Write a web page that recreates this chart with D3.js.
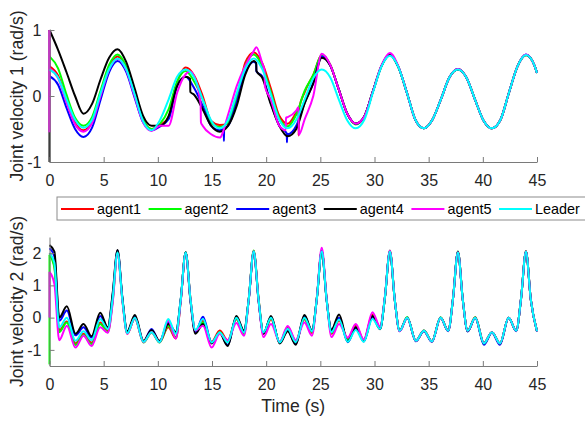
<!DOCTYPE html>
<html>
<head>
<meta charset="utf-8">
<script src="https://cdnjs.cloudflare.com/ajax/libs/d3/7.8.5/d3.min.js"></script>
<style>
    body { margin: 0; background: #ffffff; }
    svg { font-family: "Liberation Sans", Arial, Helvetica, sans-serif; }
    .axis text { fill: #262626; font-size: 16px; }
    .axis path, .axis line { stroke: #7a7a7a; stroke-width: 1; }
    .label { fill: #262626; font-size: 17.6px; }
    .legend text { fill: #000000; font-size: 14.4px; }
</style>
</head>
<body>
<div id="chart"></div>
<script>
// time samples (s) at quarter/eighth period points
const timeTop = [0, 0.79, 1.57, 2.36, 3.14, 3.93, 4.71, 5.50, 6.28,
    7.07, 7.85, 8.64, 9.42, 10.21, 11.00, 11.78, 12.57,
    13.35, 14.14, 14.92, 15.71, 16.49, 17.28, 18.06, 18.85,
    19.63, 20.42, 21.21, 21.99, 22.78, 23.56, 24.35, 25.13,
    25.92, 26.70, 27.49, 28.27, 29.06, 29.85, 30.63, 31.42,
    32.20, 32.99, 33.77, 34.56, 35.34, 36.13, 36.91, 37.70,
    38.48, 39.27, 40.06, 40.84, 41.63, 42.41, 43.20, 43.98,
    44.77, 45.00];

const timeBottom = [0, 0.45, 0.9, 1.6, 2.4, 3.14, 3.88, 4.68, 5.38, 5.83,
    6.28, 6.73, 7.18, 7.88, 8.68, 9.42, 10.16, 10.96, 11.66, 12.11,
    12.57, 13.02, 13.47, 14.17, 14.97, 15.71, 16.45, 17.25, 17.95, 18.40,
    18.85, 19.30, 19.75, 20.45, 21.25, 21.99, 22.73, 23.53, 24.23, 24.68,
    25.13, 25.58, 26.03, 26.73, 27.53, 28.27, 29.01, 29.81, 30.51, 30.96,
    31.42, 31.87, 32.32, 33.02, 33.82, 34.56, 35.30, 36.10, 36.80, 37.25,
    37.70, 38.15, 38.60, 39.30, 40.10, 40.84, 41.58, 42.38, 43.08, 43.53,
    43.98, 44.43, 45.00];

// joint velocity 1 (rad/s)
const agent1Top = [0.45, 0.31, -0.06, -0.40, -0.52, -0.39, 0.03, 0.43, 0.60,
    0.43, 0.03, -0.37, -0.50, -0.44, -0.32, 0.20, 0.43,
    0.31, 0.00, -0.38, -0.44, -0.42, -0.10, 0.50, 0.66,
    0.50, 0.12, -0.30, -0.42, -0.25, 0.06, 0.32, 0.62,
    0.47, 0.10, -0.27, -0.42, -0.31, 0.07, 0.45, 0.63,
    0.44, 0.05, -0.36, -0.49, -0.36, -0.05, 0.28, 0.41,
    0.28, -0.05, -0.37, -0.49, -0.36, 0.05, 0.45, 0.62,
    0.46, 0.35];
const agent2Top = [0.60, 0.42, 0.02, -0.33, -0.45, -0.32, 0.08, 0.47, 0.63,
    0.45, 0.05, -0.36, -0.50, -0.42, -0.20, 0.22, 0.38,
    0.22, -0.05, -0.40, -0.47, -0.40, 0.00, 0.45, 0.63,
    0.45, 0.06, -0.34, -0.46, -0.28, 0.08, 0.32, 0.62,
    0.47, 0.10, -0.27, -0.43, -0.31, 0.07, 0.45, 0.63,
    0.44, 0.05, -0.36, -0.49, -0.36, -0.05, 0.28, 0.40,
    0.28, -0.05, -0.37, -0.49, -0.36, 0.05, 0.45, 0.62,
    0.46, 0.35];
const agent3Top = [0.30, 0.17, -0.18, -0.50, -0.62, -0.48, -0.06, 0.36, 0.53,
    0.37, -0.02, -0.40, -0.52, -0.46, -0.35, 0.15, 0.29,
    0.12, -0.15, -0.45, -0.52, -0.45, -0.10, 0.35, 0.52,
    0.30, -0.10, -0.45, -0.58, -0.45, -0.10, 0.20, 0.60,
    0.46, 0.10, -0.27, -0.42, -0.31, 0.07, 0.45, 0.63,
    0.44, 0.05, -0.36, -0.49, -0.36, -0.05, 0.28, 0.41,
    0.28, -0.05, -0.37, -0.49, -0.36, 0.05, 0.45, 0.63,
    0.46, 0.35];
const agent4Top = [1.00, 0.70, 0.36, 0.00, -0.27, -0.12, 0.25, 0.58, 0.71,
    0.52, 0.12, -0.30, -0.45, -0.45, -0.30, 0.15, 0.29,
    0.02, -0.20, -0.45, -0.54, -0.45, -0.15, 0.32, 0.53,
    0.28, -0.12, -0.45, -0.61, -0.50, -0.11, 0.19, 0.58,
    0.46, 0.10, -0.27, -0.42, -0.31, 0.07, 0.45, 0.63,
    0.44, 0.05, -0.36, -0.49, -0.36, -0.05, 0.28, 0.40,
    0.28, -0.05, -0.37, -0.49, -0.36, 0.05, 0.45, 0.62,
    0.46, 0.35];
const agent5Top = [0.42, 0.27, -0.10, -0.43, -0.54, -0.41, 0.00, 0.40, 0.56,
    0.40, 0.00, -0.40, -0.53, -0.45, -0.45, 0.05, 0.33,
    0.30, -0.45, -0.58, -0.63, -0.28, 0.15, 0.45, 0.68,
    0.50, -0.05, -0.45, -0.32, -0.22, -0.35, 0.00, 0.64,
    0.47, 0.10, -0.27, -0.42, -0.31, 0.07, 0.46, 0.65,
    0.45, 0.05, -0.36, -0.49, -0.36, -0.05, 0.28, 0.41,
    0.28, -0.05, -0.37, -0.49, -0.36, 0.05, 0.45, 0.63,
    0.46, 0.35];
const leaderTop = [0.40, 0.28, -0.05, -0.36, -0.48, -0.36, 0.04, 0.41, 0.57,
    0.41, 0.03, -0.38, -0.52, -0.36, -0.05, 0.29, 0.40,
    0.28, -0.05, -0.37, -0.49, -0.36, 0.04, 0.41, 0.57,
    0.41, 0.03, -0.36, -0.49, -0.36, -0.05, 0.27, 0.40,
    0.28, -0.05, -0.37, -0.49, -0.36, 0.05, 0.44, 0.61,
    0.44, 0.05, -0.36, -0.49, -0.36, -0.05, 0.28, 0.40,
    0.28, -0.05, -0.37, -0.49, -0.36, 0.05, 0.45, 0.62,
    0.46, 0.35];

// switching jumps seen in velocity 1, [time, value]
const agent1TopJumps = [[22.97, -0.20], [23.00, -0.60], [23.03, -0.20]];
const agent2TopJumps = [];
const agent3TopJumps = [[16.08, -0.50], [16.10, -0.68], [16.12, -0.50],
    [19.08, 0.49], [19.10, 0.37], [21.90, -0.57], [21.92, -0.70], [21.94, -0.57]];
const agent4TopJumps = [[12.98, 0.26], [13.00, 0.06], [19.08, 0.50], [19.10, 0.38]];
const agent5TopJumps = [[12.95, 0.37], [13.95, -0.12], [13.98, -0.40], [19.10, 0.74],
    [19.85, 0.38], [19.88, 0.15], [21.80, -0.52], [21.83, -0.33], [22.98, -0.17], [23.01, -0.59]];
const leaderTopJumps = [];

// joint velocity 2 (rad/s)
const agent1Bottom = [2.00, 1.60, -0.40, -0.12, -0.80, -0.50, -0.78, -0.15, -0.42, 0.55,
    2.02, 0.55, -0.50, -0.02, -0.76, -0.45, -0.76, -0.30, -0.65, 0.50,
    2.03, 0.55, -0.40, -0.10, -0.75, -0.40, -0.70, -0.05, -0.50, 0.60,
    2.07, 0.58, -0.50, -0.05, -0.77, -0.30, -0.72, -0.05, -0.48, 0.62,
    2.08, 0.58, -0.50, -0.10, -0.65, -0.25, -0.70, 0.10, -0.30, 0.62,
    2.05, 0.55, -0.41, 0.00, -0.72, -0.41, -0.74, 0.00, -0.41, 0.60,
    2.03, 0.55, -0.41, 0.01, -0.79, -0.45, -0.80, 0.00, -0.41, 0.60,
    2.05, 0.55, -0.42];
const agent2Bottom = [1.95, 1.55, -0.45, -0.15, -0.85, -0.55, -0.82, -0.20, -0.45, 0.50,
    2.02, 0.55, -0.48, -0.02, -0.77, -0.46, -0.77, -0.25, -0.60, 0.52,
    2.03, 0.55, -0.42, -0.15, -0.78, -0.45, -0.75, -0.02, -0.50, 0.60,
    2.08, 0.58, -0.48, -0.02, -0.77, -0.33, -0.75, -0.02, -0.45, 0.62,
    2.07, 0.58, -0.48, -0.05, -0.70, -0.30, -0.72, 0.05, -0.32, 0.62,
    2.08, 0.56, -0.40, 0.02, -0.72, -0.40, -0.73, 0.01, -0.40, 0.61,
    2.05, 0.56, -0.41, 0.01, -0.79, -0.45, -0.80, 0.00, -0.41, 0.60,
    2.06, 0.55, -0.42];
const agent3Bottom = [2.15, 1.90, -0.10, 0.22, -0.55, -0.30, -0.62, 0.05, -0.32, 0.70,
    2.08, 0.60, -0.45, 0.03, -0.74, -0.35, -0.75, -0.15, -0.45, 0.55,
    2.02, 0.50, -0.45, 0.03, -0.78, -0.48, -0.85, 0.02, -0.42, 0.58,
    2.04, 0.52, -0.48, 0.02, -0.78, -0.40, -0.82, 0.05, -0.40, 0.60,
    2.06, 0.55, -0.38, 0.00, -0.76, -0.32, -0.74, 0.02, -0.35, 0.62,
    2.04, 0.55, -0.42, 0.00, -0.73, -0.42, -0.75, 0.00, -0.42, 0.60,
    2.03, 0.55, -0.43, 0.00, -0.84, -0.47, -0.84, 0.00, -0.42, 0.60,
    2.04, 0.55, -0.43];
const agent4Bottom = [2.25, 2.05, 0.00, 0.35, -0.50, -0.20, -0.58, 0.15, -0.30, 0.75,
    2.10, 0.60, -0.42, 0.08, -0.72, -0.38, -0.72, -0.20, -0.45, 0.55,
    2.02, 0.50, -0.50, -0.20, -0.80, -0.48, -0.88, 0.05, -0.40, 0.60,
    2.04, 0.52, -0.50, 0.05, -0.80, -0.42, -0.84, 0.08, -0.40, 0.60,
    2.06, 0.55, -0.38, 0.10, -0.74, -0.30, -0.72, 0.05, -0.36, 0.62,
    2.05, 0.55, -0.41, 0.00, -0.72, -0.41, -0.74, 0.00, -0.41, 0.60,
    2.04, 0.55, -0.42, 0.00, -0.80, -0.45, -0.81, 0.00, -0.41, 0.60,
    2.05, 0.55, -0.42];
const agent5Bottom = [1.42, 1.05, -0.70, -0.25, -0.93, -0.56, -0.88, -0.30, -0.47, 0.45,
    1.98, 0.50, -0.50, -0.02, -0.76, -0.45, -0.76, -0.10, -0.65, 0.50,
    2.00, 0.55, -0.40, -0.25, -0.93, -0.50, -0.70, -0.17, -0.56, 0.58,
    2.05, 0.55, -0.60, -0.20, -0.75, -0.26, -0.70, -0.15, -0.56, 0.62,
    2.17, 0.60, -0.60, -0.20, -0.62, -0.20, -0.68, 0.17, -0.28, 0.65,
    2.08, 0.56, -0.42, 0.00, -0.72, -0.41, -0.74, 0.00, -0.41, 0.60,
    2.03, 0.55, -0.41, 0.00, -0.79, -0.45, -0.80, 0.00, -0.41, 0.60,
    2.05, 0.55, -0.42];
const leaderBottom = [2.00, 1.70, -0.30, 0.00, -0.72, -0.42, -0.70, -0.05, -0.35, 0.60,
    2.02, 0.55, -0.48, 0.00, -0.75, -0.45, -0.76, -0.04, -0.50, 0.55,
    2.02, 0.55, -0.38, -0.04, -0.77, -0.46, -0.77, 0.00, -0.46, 0.60,
    2.05, 0.55, -0.46, 0.00, -0.77, -0.35, -0.76, 0.00, -0.42, 0.60,
    2.05, 0.55, -0.45, -0.06, -0.75, -0.38, -0.75, -0.04, -0.35, 0.62,
    2.04, 0.55, -0.41, 0.00, -0.72, -0.41, -0.74, 0.00, -0.41, 0.60,
    2.02, 0.55, -0.41, 0.00, -0.80, -0.45, -0.80, 0.00, -0.41, 0.60,
    2.04, 0.55, -0.42];

// values held at t = 0 before each curve starts (vertical jumps)
const startTop = [[], [], [], [-1.0], [-0.55, 1.0], []];
const startBottom = [[], [-1.45], [], [], [0.0], []];

const seriesNames = ["agent1", "agent2", "agent3", "agent4", "agent5", "Leader"];
const seriesColors = ["#ff0000", "#00ff00", "#0000ff", "#000000", "#ff00ff", "#00ffff"];

const xTicks = [0, 5, 10, 15, 20, 25, 30, 35, 40, 45];
const yTicksTop = [-1, 0, 1];
const yTicksBottom = [-1, 0, 1, 2];

const svgWidth = 585;
const svgHeight = 425;
const plotLeft = 49.5;
const plotRight = 537;

function buildPoints(time, values, jumps) {
    let points = time.map((t, i) => [t, values[i]]);
    points = points.concat(jumps);
    points.sort((a, b) => a[0] - b[0]);
    return points;
}

function drawPanel(svg, panel) {
    let scaleX = d3.scaleLinear()
        .domain([0, 45])
        .range([plotLeft, plotRight]);
    let scaleY = d3.scaleLinear()
        .domain(panel.domainY)
        .range([panel.bottom, panel.top]);

    let line = d3.line()
        .x(d => scaleX(d[0]))
        .y(d => scaleY(d[1]))
        .curve(d3.curveMonotoneX);

    let g = svg.append("g").attr("id", panel.id);

    panel.values.forEach((values, i) => {
        let starts = panel.starts[i];
        if (starts.length > 0) {
            let span = starts.concat([values[0]]);
            g.append("line")
                .attr("x1", scaleX(0))
                .attr("x2", scaleX(0))
                .attr("y1", scaleY(d3.min(span)))
                .attr("y2", scaleY(d3.max(span)))
                .attr("stroke", seriesColors[i])
                .attr("stroke-width", 2);
        }
        g.append("path")
            .datum(buildPoints(panel.time, values, panel.jumps[i]))
            .attr("d", line)
            .attr("fill", "none")
            .attr("stroke", seriesColors[i])
            .attr("stroke-width", 2)
            .attr("stroke-linejoin", "round");
    });

    let axisX = d3.axisBottom(scaleX)
        .tickValues(xTicks)
        .tickSizeInner(-5)
        .tickSizeOuter(0)
        .tickPadding(13);
    g.append("g")
        .attr("class", "axis")
        .attr("transform", `translate(0, ${ panel.bottom })`)
        .call(axisX);

    let axisY = d3.axisLeft(scaleY)
        .tickValues(panel.yTicks)
        .tickFormat(d => d.toString())
        .tickSizeInner(-5)
        .tickSizeOuter(0)
        .tickPadding(8);
    g.append("g")
        .attr("class", "axis")
        .attr("transform", `translate(${ plotLeft }, 0)`)
        .call(axisY);

    let labelY = (panel.top + panel.bottom) / 2;
    g.append("text")
        .attr("class", "label")
        .attr("text-anchor", "middle")
        .attr("transform", `translate(23, ${ labelY }) rotate(-90)`)
        .text(panel.yLabel);

    g.append("text")
        .attr("class", "label")
        .attr("text-anchor", "middle")
        .attr("x", (plotLeft + plotRight) / 2)
        .attr("y", panel.bottom + panel.labelGap)
        .text("Time (s)");
}

function drawLegend(svg) {
    let legend = svg.append("g").attr("class", "legend");
    legend.append("rect")
        .attr("x", 57)
        .attr("y", 197)
        .attr("width", 560)
        .attr("height", 23)
        .attr("fill", "#ffffff")
        .attr("stroke", "#8c8c8c")
        .attr("stroke-width", 1);

    seriesNames.forEach((name, i) => {
        let x0 = 61 + i * 87.6;
        legend.append("line")
            .attr("x1", x0)
            .attr("x2", x0 + 33)
            .attr("y1", 209)
            .attr("y2", 209)
            .attr("stroke", seriesColors[i])
            .attr("stroke-width", 2);
        legend.append("text")
            .attr("x", x0 + 36)
            .attr("y", 214)
            .text(name);
    });
}

let svg = d3.select("#chart")
    .append("svg")
        .attr("width", svgWidth)
        .attr("height", svgHeight);

drawPanel(svg, {
    id: "velocity-1",
    top: 30,
    bottom: 162,
    domainY: [-1, 1],
    yTicks: yTicksTop,
    yLabel: "Joint velocity 1 (rad/s)",
    labelGap: 50,
    time: timeTop,
    values: [agent1Top, agent2Top, agent3Top, agent4Top, agent5Top, leaderTop],
    jumps: [agent1TopJumps, agent2TopJumps, agent3TopJumps, agent4TopJumps, agent5TopJumps, leaderTopJumps],
    starts: startTop
});

drawPanel(svg, {
    id: "velocity-2",
    top: 237,
    bottom: 366,
    domainY: [-1.5, 2.5],
    yTicks: yTicksBottom,
    yLabel: "Joint velocity 2 (rad/s)",
    labelGap: 46,
    time: timeBottom,
    values: [agent1Bottom, agent2Bottom, agent3Bottom, agent4Bottom, agent5Bottom, leaderBottom],
    jumps: [[], [], [], [], [], []],
    starts: startBottom
});

drawLegend(svg);
</script>
</body>
</html>
